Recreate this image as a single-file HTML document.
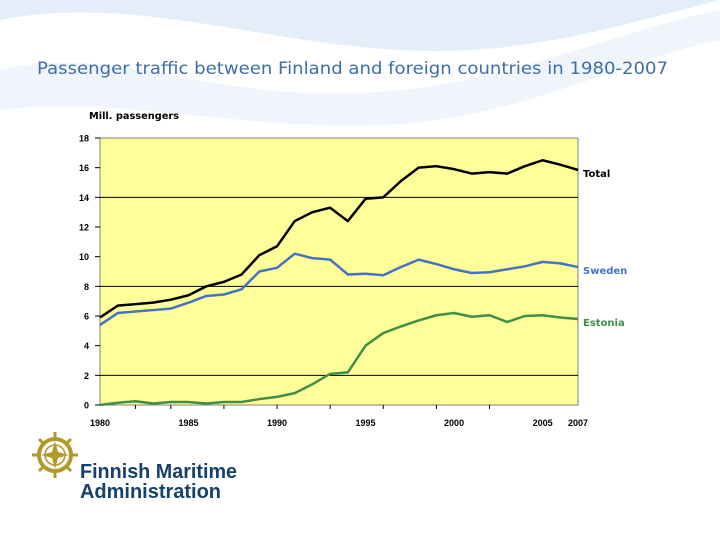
<!DOCTYPE html>
<html><head><meta charset="utf-8"><style>
body{margin:0;width:720px;height:540px;overflow:hidden;background:#fff;font-family:"Liberation Sans",sans-serif}
svg{position:absolute;left:0;top:0}
</style></head><body>
<svg width="720" height="540">
<g>
<path d="M0 20 C150 -10 300 60 470 50 C560 45 640 20 720 0 L720 0 L0 0Z" fill="#e4eef8"/>
<path d="M0 70 C120 40 220 110 400 90 C520 78 620 30 720 10 L720 40 C620 60 520 120 380 125 C230 130 120 95 0 110Z" fill="#f0f5fb"/>
</g>
<text x="37" y="74" font-size="16.5" fill="#3d6fa6" textLength="631" lengthAdjust="spacingAndGlyphs" font-family="DejaVu Sans, sans-serif">Passenger traffic between Finland and foreign countries in 1980-2007</text>
<text x="89" y="119" font-size="10" font-weight="bold" fill="#000" textLength="90" lengthAdjust="spacingAndGlyphs" font-family="DejaVu Sans, sans-serif">Mill. passengers</text>
<g id="chart"></g>
<g>
<circle cx="55" cy="455" r="16" fill="none" stroke="#b3982a" stroke-width="4"/>
<circle cx="55" cy="455" r="10" fill="none" stroke="#b3982a" stroke-width="1.5"/>
<path d="M55 441 L58 452 L69 455 L58 458 L55 469 L52 458 L41 455 L52 452Z" fill="#b3982a"/>
<g stroke="#b3982a" stroke-width="3"><line x1="55" y1="432" x2="55" y2="438"/><line x1="55" y1="472" x2="55" y2="478"/><line x1="32" y1="455" x2="38" y2="455"/><line x1="72" y1="455" x2="78" y2="455"/><line x1="39" y1="439" x2="43" y2="443"/><line x1="67" y1="467" x2="71" y2="471"/><line x1="71" y1="439" x2="67" y2="443"/><line x1="39" y1="471" x2="43" y2="467"/></g>
<text x="80" y="478" font-size="20" font-weight="bold" fill="#15416f" textLength="157" lengthAdjust="spacingAndGlyphs">Finnish Maritime</text>
<text x="80" y="498" font-size="20" font-weight="bold" fill="#15416f" textLength="141" lengthAdjust="spacingAndGlyphs">Administration</text>
</g>
</svg>
<script>
const years=[1980,1981,1982,1983,1984,1985,1986,1987,1988,1989,1990,1991,1992,1993,1994,1995,1996,1997,1998,1999,2000,2001,2002,2003,2004,2005,2006,2007];
const total=[5.9,6.7,6.8,6.9,7.1,7.4,8.0,8.3,8.8,10.1,10.7,12.4,13.0,13.3,12.4,13.9,14.0,15.1,16.0,16.1,15.9,15.6,15.7,15.6,16.1,16.5,16.2,15.85];
const sweden=[5.4,6.2,6.3,6.4,6.5,6.9,7.35,7.45,7.8,9.0,9.25,10.2,9.9,9.8,8.8,8.85,8.75,9.3,9.8,9.5,9.15,8.9,8.95,9.15,9.35,9.65,9.55,9.3];
const estonia=[0,0.15,0.25,0.1,0.2,0.2,0.1,0.2,0.2,0.4,0.55,0.8,1.4,2.1,2.2,4.0,4.85,5.3,5.7,6.05,6.2,5.95,6.05,5.6,6.0,6.05,5.9,5.8];
const yTicks=[0,2,4,6,8,10,12,14,16,18];
const gridVals=[2,8,14];
const xLabels=[1980,1985,1990,1995,2000,2005,2007];
const xTickYears=[1982,1984,1987,1990,1993,1996,1999,2002];
const L=100,R=578,T=138,B=405;
const NS="http://www.w3.org/2000/svg";
const g=document.getElementById('chart');
const xs=y=>L+(y-years[0])/(years[years.length-1]-years[0])*(R-L);
const ys=v=>B-v/18*(B-T);
function mk(t,a,p){const e=document.createElementNS(NS,t);for(const k in a)e.setAttribute(k,a[k]);(p||g).appendChild(e);return e;}
const bg=mk('rect',{x:L,y:T,width:R-L,height:B-T,fill:'#ffff99',stroke:'#808080','stroke-width':1});


gridVals.forEach(v=>{const l=mk('line',{x1:L,x2:R,y1:ys(v),y2:ys(v),stroke:'#000','stroke-width':1});

});
yTicks.forEach(v=>{const l=mk('line',{x1:L-5,x2:L,y1:ys(v),y2:ys(v),stroke:'#000'});


const t=mk('text',{x:L-11,y:ys(v)+3.5,'font-size':9,'font-weight':'bold','text-anchor':'end',fill:'#000'});t.textContent=v;

});
mk('line',{x1:L,x2:R,y1:B,y2:B,stroke:'#808080'});
xTickYears.forEach(y=>{const l=mk('line',{x1:xs(y),x2:xs(y),y1:B,y2:B+4,stroke:'#000'});

});
xLabels.forEach(y=>{const t=mk('text',{x:xs(y),y:426,'font-size':9,'font-weight':'bold','text-anchor':'middle',fill:'#000'});t.textContent=y;

});
const series=[[total,'#000','Total','series-total'],[sweden,'#4472c4','Sweden','series-sweden'],[estonia,'#3f8f48','Estonia','series-estonia']];
series.forEach(([d,c,n,id])=>{
const p=mk('polyline',{points:d.map((v,i)=>xs(years[i])+','+ys(v)).join(' '),fill:'none',stroke:c,'stroke-width':2.5,'stroke-linejoin':'round'});


const t=mk('text',{x:R+5,y:ys(d[d.length-1])+7,'font-size':10,'font-weight':'bold',fill:n==='Total'?'#000':c,'font-family':'DejaVu Sans, sans-serif'});t.textContent=n;

});
</script>
</body></html>
